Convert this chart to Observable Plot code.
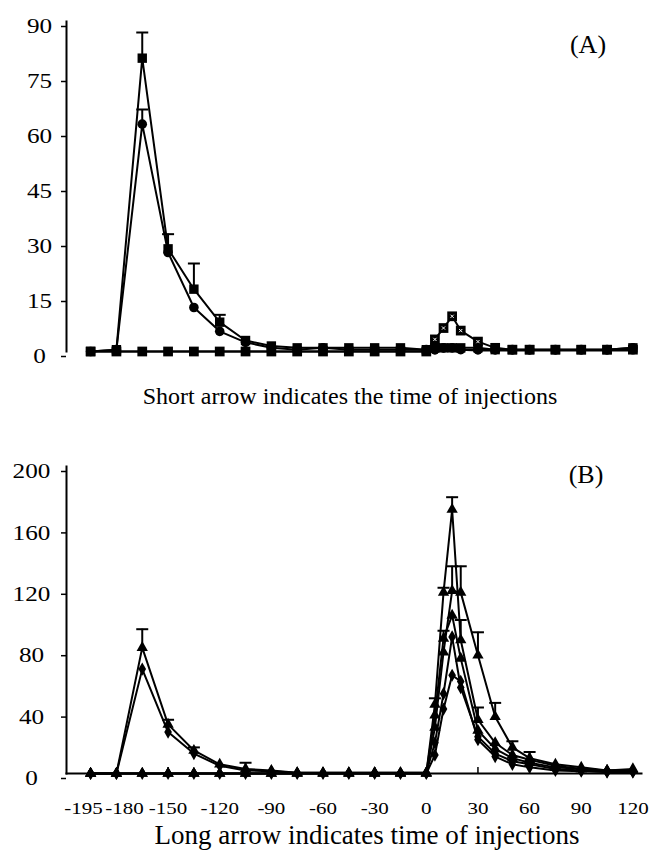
<!DOCTYPE html>
<html>
<head>
<meta charset="utf-8">
<script src="https://cdn.jsdelivr.net/npm/d3@7"></script>
<script src="https://cdn.jsdelivr.net/npm/@observablehq/plot@0.6"></script>
<style>
  html, body { margin: 0; padding: 0; background: #fff; }
  #root { position: relative; width: 653px; height: 866px; overflow: hidden; font-family: "Liberation Serif", "Times New Roman", serif; color: #000; }
  .panel { position: absolute; left: 0; }
  .lbl { position: absolute; line-height: 1; white-space: nowrap; font-family: "Liberation Serif", serif; color: #000; }
</style>
</head>
<body>
<div id="root"></div>
<script>
// ---------- data ----------
const times = [-195,-180,-165,-150,-135,-120,-105,-90,-75,-60,-45,-30,-15,0,5,10,15,20,30,40,50,60,75,90,105,120];

// Panel A
const yTicksA = [0,15,30,45,60,75,90];
const aSquare    = [0,0.5,80,28,17,8,3,1.5,1,1,1,1,1,0.5, 1,1,1,1,1,0.5,0.5,0.5,0.5,0.5,0.5,1];
const aSquareErr = [null,null,87,32,24,10,null,null,null,null,null,null,null,null, null,null,null,null,null,null,null,null,null,null,null,null];
const aCircle    = [0,0.5,62,27,12,5.5,2.5,1,0.5,1,0.5,0.5,0.5,0.5, 0.5,1,1,0.5,0.5,0.5,0.5,0.5,0.5,0.5,0.5,1];
const aCircleErr = [null,null,66,null,null,null,null,null,null,null,null,null,null,null, null,null,null,null,null,null,null,null,null,null,null,null];
const aHatched   = [0,0,0,0,0,0,0,0,0,0,0,0,0,0, 3.3,6.4,9.6,5.7,2.7,1,0.5,0.5,0.5,0.5,0.5,0.5];
const aSmallDot  = [0,0,0,0,0,0,0,0,0,0,0,0,0,0, 0.3,0.8,1,0.5,0.3,0.3,0.3,0.3,0.3,0.3,0.3,0.3];

// Panel B
const yTicksB = [0,40,80,120,160,200];
const xTicksB = [-195,-180,-150,-120,-90,-60,-30,0,30,60,90,120];
const bTriFirst    = [0,0,82,32,15,6,3,2,0.5,0.5,0.5,0.5,0.5,0.5, 38,88,103,75,28,16,10,7,4,3,2,2];
const bTriFirstErr = [null,null,94,35,17,null,7,null,null,null,null,null,null,null, null,93,null,null,null,null,null,null,null,null,null,null];
const bDiaFirst    = [0,0,68,27,13,5,2,1.5,0.5,0.5,0.5,0.5,0.5,0.5, 20,52,89,56,24,13,8,6,3,2,1,1];
const bTriPeak     = [0,0,0,0,0,0,0,0,0,0,0,0,0,0, 45,118,172,87,35,20,12,9,5,3,2,3];
const bTriPeakErr  = [null,null,null,null,null,null,null,null,null,null,null,null,null,null, 49,121,180,100,43,null,null,null,null,null,null,null];
const bTriWide     = [0,0,0,0,0,0,0,0,0,0,0,0,0,0, 30,79,119,118,77,37,17,10,6,4,2,2];
const bTriWideErr  = [null,null,null,null,null,null,null,null,null,null,null,null,null,null, null,null,135,135,92,46,21,14,null,null,null,null];
const bDiaSecond   = [0,0,0,0,0,0,0,0,0,0,0,0,0,0, 12,42,64,60,22,11,6,4,2,1.5,1,1];

// ---------- helpers ----------
function rows(name, vals, errs) {
  return times.map((t, i) => ({name, t, v: vals[i], err: errs ? errs[i] : null}));
}
const capSymbol = {
  draw(ctx, size) {
    const r = Math.sqrt(size / Math.PI);
    ctx.moveTo(-r, 0);
    ctx.lineTo(r, 0);
  }
};
function errMarks(data) {
  const e = data.filter(d => d.err != null);
  return [
    Plot.ruleX(e, {x: "t", y1: "v", y2: "err", stroke: "black", strokeWidth: 2}),
    Plot.dot(e, {x: "t", y: "err", symbol: capSymbol, r: 6, stroke: "black", strokeWidth: 2, fill: "none"})
  ];
}
function stretchText(svg) {
  svg.querySelectorAll('g[aria-label="y-axis tick label"] text, g[aria-label="x-axis tick label"] text').forEach(el => {
    const t = el.getAttribute("transform") || "";
    const x = +(el.getAttribute("x") || 0);
    el.setAttribute("transform", `${t} translate(${x},0) scale(1.2,1) translate(${-x},0)`);
  });
}

const FONT = "Liberation Serif";
const root = document.getElementById("root");

// ---------- Panel A ----------
const A1 = rows("sq", aSquare, aSquareErr);
const A2 = rows("ci", aCircle, aCircleErr);
const A3 = rows("ha", aHatched, null);
const A4 = rows("sd", aSmallDot, null);
const allA = [...A4, ...A2, ...A1, ...A3];

const plotA = Plot.plot({
  width: 653, height: 380,
  marginLeft: 66, marginRight: 12, marginTop: 21, marginBottom: 29,
  style: {fontFamily: FONT, background: "white", color: "black", overflow: "visible"},
  x: {domain: [-209, 125], axis: null},
  y: {domain: [0, 90], axis: null},
  marks: [
    Plot.axisY({ticks: yTicksA, label: null, tickSize: 5, tickPadding: 22, textAnchor: "middle", fontSize: 21, dy: 5, strokeWidth: 1.5, tickFormat: d => String(d)}),
    Plot.frame({anchor: "left", strokeWidth: 2}),
    Plot.line(allA, {x: "t", y: "v", z: "name", stroke: "black", strokeWidth: 2}),
    ...errMarks(A1),
    ...errMarks(A2),
    Plot.dot(A4, {x: "t", y: "v", symbol: "circle", r: 4, fill: "black"}),
    Plot.dot(A2, {x: "t", y: "v", symbol: "circle", r: 4.8, fill: "black"}),
    Plot.dot(A1, {x: "t", y: "v", symbol: "square", r: 5.3, fill: "black"}),
    Plot.dot(A3, {x: "t", y: "v", symbol: "square", r: 5.5, fill: "black"}),
    Plot.dot(A3.filter(d => d.t > 0 && d.t <= 30), {x: "t", y: "v", symbol: "times", r: 1.6, stroke: "white", strokeWidth: 1})
  ]
});
stretchText(plotA);
plotA.classList.add("panel");
plotA.style.top = "0px";
root.appendChild(plotA);

// ---------- Panel B ----------
const B1 = rows("tf", bTriFirst, bTriFirstErr);
const B2 = rows("df", bDiaFirst, null);
const B3 = rows("tp", bTriPeak, bTriPeakErr);
const B4 = rows("tw", bTriWide, bTriWideErr);
const B5 = rows("ds", bDiaSecond, null);
const allB = [...B2, ...B5, ...B1, ...B4, ...B3];

const plotB = Plot.plot({
  width: 653, height: 393,
  marginLeft: 66, marginRight: 12, marginTop: 26, marginBottom: 60,
  style: {fontFamily: FONT, background: "white", color: "black", overflow: "visible"},
  x: {domain: [-209, 125], axis: null},
  y: {domain: [0, 200], axis: null},
  marks: [
    Plot.axisY({ticks: yTicksB, label: null, tickSize: 5, tickPadding: 30, textAnchor: "middle", fontSize: 21, dy: 5, strokeWidth: 1.5, tickFormat: d => String(d)}),
    Plot.axisX({ticks: xTicksB.filter(d => d !== -195 && d !== -180), label: null, tickSize: -6, tickPadding: 34, fontSize: 17.5, strokeWidth: 1.5, tickFormat: d => String(d)}),
    Plot.axisX({ticks: [-195], label: null, tickSize: -6, tickPadding: 34, fontSize: 17.5, dx: -7, strokeWidth: 0, tickFormat: d => String(d)}),
    Plot.axisX({ticks: [-180], label: null, tickSize: -6, tickPadding: 34, fontSize: 17.5, dx: 8, strokeWidth: 0, tickFormat: d => String(d)}),
    Plot.frame({anchor: "left", strokeWidth: 2}),
    Plot.frame({anchor: "bottom", strokeWidth: 2}),
    Plot.line(allB, {x: "t", y: "v", z: "name", stroke: "black", strokeWidth: 2}),
    ...errMarks(B1),
    ...errMarks(B3),
    ...errMarks(B4),
    Plot.dot(B2, {x: "t", y: "v", symbol: "diamond", r: 4, fill: "black"}),
    Plot.dot(B5, {x: "t", y: "v", symbol: "diamond", r: 4, fill: "black"}),
    Plot.dot(B1, {x: "t", y: "v", symbol: "triangle", r: 4.2, fill: "black"}),
    Plot.dot(B4, {x: "t", y: "v", symbol: "triangle", r: 4.2, fill: "black"}),
    Plot.dot(B3, {x: "t", y: "v", symbol: "triangle", r: 4.2, fill: "black"})
  ]
});
stretchText(plotB);
plotB.classList.add("panel");
plotB.style.top = "440px";
root.appendChild(plotB);

// ---------- labels & captions ----------
function addLabel(text, size, centerX, baseline) {
  const d = document.createElement("div");
  d.className = "lbl";
  d.textContent = text;
  d.style.fontSize = size + "px";
  d.style.top = (baseline - 0.8375 * size) + "px";
  d.style.left = "0px";
  root.appendChild(d);
  const w = d.getBoundingClientRect().width;
  d.style.left = (centerX - w / 2) + "px";
}
addLabel("(A)", 26, 588, 53.5);
addLabel("(B)", 26, 586, 483.5);
addLabel("Short arrow indicates the time of injections", 24, 350, 404);
addLabel("Long arrow indicates time of injections", 27, 367, 845);
</script>
</body>
</html>
